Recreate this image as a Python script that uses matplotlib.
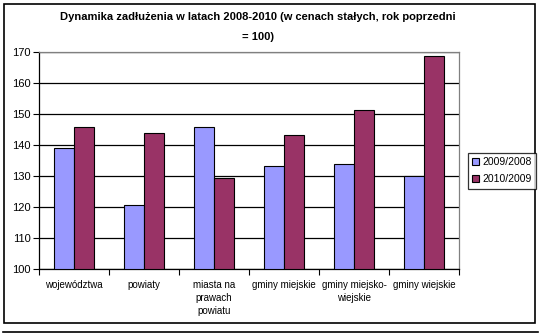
import matplotlib.pyplot as plt
import numpy as np
from matplotlib.patches import Rectangle
from matplotlib.lines import Line2D

plt.rcParams['font.family'] = ['Liberation Sans', 'DejaVu Sans']

categories = ["województwa", "powiaty", "miasta na\nprawach\npowiatu",
              "gminy miejskie", "gminy miejsko-\nwiejskie", "gminy wiejskie"]
series_names = ["2009/2008", "2010/2009"]
values_0908 = [139.1, 120.8, 145.8, 133.3, 134.0, 129.9]
values_1009 = [145.8, 143.9, 129.5, 143.3, 151.3, 168.6]
colors = ["#9999FF", "#993366"]

W, H = 542, 334
fig = plt.figure(figsize=(W / 100, H / 100), dpi=100)

# outer chart frame + the extra line below it
fig.add_artist(Rectangle((4 / W, 1 - 323.3 / H), 531 / W, 319 / H,
                         transform=fig.transFigure, fill=False,
                         edgecolor='black', linewidth=1.2))
fig.add_artist(Line2D([3 / W, 538 / W], [1 - 331.7 / H] * 2,
                      transform=fig.transFigure, color='black', linewidth=1.2))

ax = fig.add_axes([39 / W, 1 - 269.3 / H, 420 / W, (269.3 - 51.5) / H])

x = np.arange(len(categories))
bw = 20 / 70
ax.bar(x - bw / 2, np.array(values_0908) - 100, bw, bottom=100, color=colors[0],
       edgecolor='black', linewidth=0.8, label=series_names[0], zorder=3)
ax.bar(x + bw / 2, np.array(values_1009) - 100, bw, bottom=100, color=colors[1],
       edgecolor='black', linewidth=0.8, label=series_names[1], zorder=3)

ax.set_ylim(100, 170)
ax.set_xlim(-0.5, len(categories) - 0.5)
ax.set_yticks(range(100, 171, 10))
ax.yaxis.grid(True, color='black', linewidth=0.9, zorder=0)
ax.set_axisbelow(True)

ax.set_xticks(x)
ax.set_xticklabels(categories, fontsize=7, linespacing=1.35)
ax.set_xticks(np.arange(-0.5, len(categories)), minor=True)
ax.tick_params(axis='x', which='major', length=0, pad=8)
ax.tick_params(axis='x', which='minor', length=4, width=0.8, direction='out')
ax.tick_params(axis='y', length=4, width=0.8, direction='out', labelsize=8, pad=2)

for s in ['top', 'right']:
    ax.spines[s].set_color('#808080')
    ax.spines[s].set_linewidth(0.9)
for s in ['left', 'bottom']:
    ax.spines[s].set_color('black')
    ax.spines[s].set_linewidth(0.9)

title_x = 258 / W
fig.text(title_x, 1 - 17 / H, "Dynamika zadłużenia w latach 2008-2010 (w cenach stałych, rok poprzedni",
         ha='center', va='center', fontsize=8, fontweight='bold')
fig.text(title_x, 1 - 37 / H, "= 100)", ha='center', va='center', fontsize=8, fontweight='bold')

leg = fig.legend(loc='upper left', bbox_to_anchor=(468 / W, 1 - 153 / H),
                 fontsize=7.5, frameon=True, fancybox=False, edgecolor='black',
                 handlelength=0.7, handleheight=0.7, handletextpad=0.3,
                 borderpad=0.4, labelspacing=0.7, borderaxespad=0)
leg.get_frame().set_linewidth(0.9)

fig.savefig("out.png", dpi=100)
